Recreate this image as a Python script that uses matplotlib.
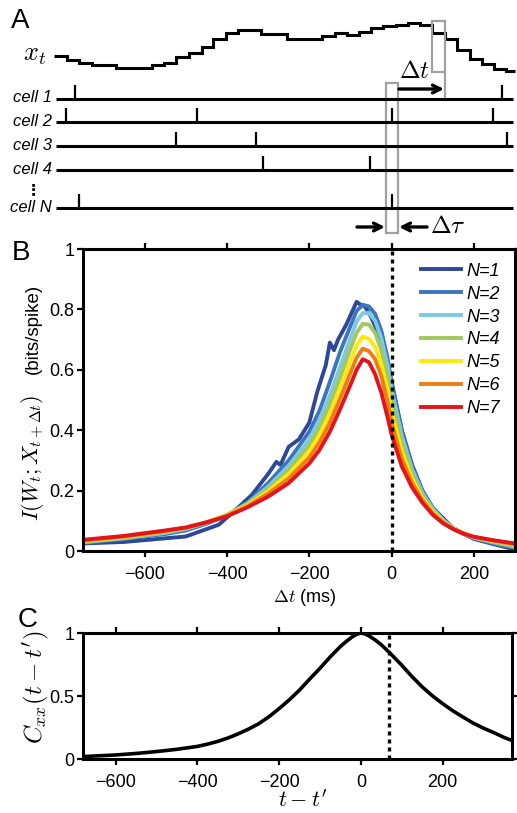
import matplotlib
matplotlib.use("Agg")
import matplotlib.pyplot as plt
from matplotlib.patches import Rectangle

plt.rcParams['font.family'] = ['Liberation Sans', 'DejaVu Sans']
plt.rcParams['mathtext.fontset'] = 'cm'

# ---------------------------- DATA -----------------------------------
# Panel A: schematic stimulus x_t (step levels) and spike rasters (pixel units)
stim_edges = [54, 67, 79, 92, 116, 152, 164, 176, 189, 202, 213, 226, 238, 261, 287, 310,
              322, 335, 347, 359, 371, 383, 396, 408, 420, 432, 445, 457, 470, 482, 494, 506, 515]
stim_levels = [56.5, 60.5, 63.5, 65.5, 68, 65.5, 63, 57.5, 53, 47, 39.5, 33, 30, 34.5, 39, 39.5,
               36, 33.3, 35.5, 32.5, 28.5, 26.5, 25, 23.5, 25.5, 33.3, 39.5, 50, 59, 64.5, 69, 71.5]

cell_names = ['cell 1', 'cell 2', 'cell 3', 'cell 4', 'cell N']
cell_rows = [99, 122, 146, 170, 208]
spike_times = [[75, 502],
               [66, 197, 392, 493],
               [176, 256, 507],
               [263, 370],
               [79, 392]]

# Panel B: information vs. delay, one curve per population size
dt_ms = [-750, -650, -550, -500, -450, -400, -350, -300, -250, -200, -175, -150, -125, -100, -85,
         -70, -55, -40, -25, -10, 0, 25, 50, 75, 100, 125, 150, 175, 200, 250, 300]
info_n2 = [0.027, 0.040, 0.056, 0.068, 0.090, 0.118, 0.160, 0.225, 0.300, 0.395, 0.465, 0.560, 0.660, 0.745, 0.795,
           0.815, 0.810, 0.785, 0.730, 0.640, 0.560, 0.395, 0.280, 0.198, 0.143, 0.104, 0.076, 0.057, 0.042, 0.024, 0.010]
info_n3 = [0.029, 0.042, 0.060, 0.073, 0.093, 0.119, 0.158, 0.213, 0.282, 0.370, 0.435, 0.515, 0.610, 0.705, 0.760,
           0.788, 0.788, 0.762, 0.705, 0.615, 0.535, 0.380, 0.270, 0.192, 0.140, 0.103, 0.076, 0.058, 0.044, 0.028, 0.014]
info_n4 = [0.031, 0.044, 0.063, 0.076, 0.095, 0.120, 0.156, 0.205, 0.268, 0.350, 0.410, 0.485, 0.575, 0.670, 0.722,
           0.752, 0.750, 0.722, 0.665, 0.578, 0.500, 0.355, 0.255, 0.183, 0.135, 0.100, 0.075, 0.058, 0.045, 0.030, 0.017]
info_n5 = [0.033, 0.046, 0.065, 0.077, 0.095, 0.118, 0.152, 0.198, 0.255, 0.330, 0.385, 0.455, 0.540, 0.630, 0.680,
           0.710, 0.703, 0.675, 0.620, 0.535, 0.460, 0.330, 0.240, 0.175, 0.130, 0.097, 0.074, 0.058, 0.046, 0.032, 0.020]
info_n6 = [0.035, 0.048, 0.066, 0.077, 0.094, 0.116, 0.148, 0.190, 0.240, 0.310, 0.360, 0.425, 0.505, 0.590, 0.640,
           0.670, 0.662, 0.635, 0.580, 0.495, 0.425, 0.305, 0.225, 0.168, 0.125, 0.095, 0.073, 0.058, 0.047, 0.034, 0.022]
info_n7 = [0.037, 0.050, 0.068, 0.078, 0.095, 0.115, 0.145, 0.180, 0.225, 0.290, 0.335, 0.395, 0.470, 0.550, 0.600,
           0.635, 0.625, 0.585, 0.525, 0.445, 0.385, 0.280, 0.210, 0.160, 0.120, 0.092, 0.072, 0.057, 0.047, 0.035, 0.025]
# single cell curve is noisier, sampled on its own grid
dt_n1 = [-750, -650, -500, -420, -380, -340, -300, -280, -270, -250, -240, -225, -200, -180, -160, -150, -140,
         -130, -110, -85, -75, -65, -50, -30, -10, 0, 25, 50, 75, 100, 150, 200, 250, 300]
info_n1 = [0.025, 0.030, 0.048, 0.087, 0.135, 0.185, 0.255, 0.295, 0.285, 0.345, 0.355, 0.370, 0.425, 0.530,
           0.615, 0.690, 0.665, 0.700, 0.750, 0.825, 0.815, 0.810, 0.775, 0.715, 0.620, 0.560, 0.400, 0.285,
           0.200, 0.143, 0.075, 0.040, 0.022, 0.005]

n_labels = ['N=1', 'N=2', 'N=3', 'N=4', 'N=5', 'N=6', 'N=7']
n_colors = ['#2e4898', '#3d74c0', '#7ccae2', '#a2c85c', '#fce80c', '#f07c14', '#e3141c']

# Panel C: stimulus autocorrelation
lag_ms = [-680, -650, -600, -550, -500, -450, -400, -375, -350, -325, -300, -275, -250, -225, -200,
          -175, -150, -125, -100, -75, -50, -35, -20, -10, 0, 10, 20, 35, 50, 70, 85, 100, 125,
          150, 175, 200, 225, 250, 275, 300, 325, 350, 370]
autocorr = [0.019, 0.024, 0.032, 0.044, 0.059, 0.077, 0.100, 0.118, 0.140, 0.167, 0.200, 0.237, 0.280, 0.335, 0.400,
            0.470, 0.547, 0.635, 0.720, 0.810, 0.893, 0.935, 0.972, 0.990, 1.0, 0.993, 0.977, 0.945, 0.907, 0.845, 0.795,
            0.745, 0.655, 0.573, 0.502, 0.440, 0.383, 0.333, 0.285, 0.245, 0.210, 0.172, 0.147]
peak_shift = 70

W, H = 517.0, 813.0


def style_axes(ax):
    for s in ax.spines.values():
        s.set_linewidth(2.2)
    ax.tick_params(direction='out', length=4, width=1.6, labelsize=13,
                   top=True, right=True)
    ax.tick_params(axis='x', pad=6.5)
    ax.tick_params(axis='y', pad=2)


fig = plt.figure(figsize=(W / 100, H / 100), dpi=100)

# ------------------------------ PANEL A ------------------------------
ax_a = fig.add_axes([0, 1 - 240 / H, 1, 240 / H])
ax_a.set_xlim(0, W)
ax_a.set_ylim(240, 0)
ax_a.axis('off')

ax_a.stairs(stim_levels, stim_edges, color='k', lw=2.2, baseline=None)
ax_a.text(46, 55, r'$x_t$', fontsize=19, ha='right', va='center')

for name, row, spikes in zip(cell_names, cell_rows, spike_times):
    ax_a.plot([56, 513], [row, row], color='k', lw=2.2, solid_capstyle='butt')
    ax_a.vlines(spikes, row - 14, row, color='k', lw=1.6)
    ax_a.text(52, row - 1, name, fontsize=12, style='italic', ha='right', va='center')
ax_a.text(33, 190, '⋮', fontsize=11, fontweight='bold', ha='center', va='center',
          family=['DejaVu Sans'])

box_gray = '#a0a0a0'
ax_a.add_patch(Rectangle((432, 21), 13, 51, fill=False, ec=box_gray, lw=1.6))
ax_a.plot([445, 445], [72, 97], color=box_gray, lw=1.6)
ax_a.add_patch(Rectangle((386, 83), 12, 150, fill=False, ec=box_gray, lw=1.6))

arrow_kw = dict(arrowstyle='->', lw=2.4, color='k', mutation_scale=14, shrinkA=0, shrinkB=0)
ax_a.annotate('', xy=(444, 89), xytext=(399, 89), arrowprops=arrow_kw)
ax_a.text(430, 71, r'$\Delta t$', fontsize=18, ha='right', va='center')
ax_a.annotate('', xy=(385, 227), xytext=(357, 227), arrowprops=arrow_kw)
ax_a.annotate('', xy=(399, 227), xytext=(427, 227), arrowprops=arrow_kw)
ax_a.text(430, 226, r'$\Delta\tau$', fontsize=18, ha='left', va='center')

fig.text(11 / W, 1 - 21 / H, 'A', fontsize=20, ha='left', va='center')

# ------------------------------ PANEL B ------------------------------
ax_b = fig.add_axes([83 / W, 1 - 551 / H, 432 / W, 302 / H])
curves = [info_n1, info_n2, info_n3, info_n4, info_n5, info_n6, info_n7]
for i, (vals, lab, col) in enumerate(zip(curves, n_labels, n_colors)):
    xs = dt_n1 if i == 0 else dt_ms
    ax_b.plot(xs, vals, color=col, lw=2.8, label=lab, solid_joinstyle='round')
ax_b.axvline(0, color='k', lw=2.4, linestyle=(0, (1.2, 1.2)))
ax_b.set_xlim(-750, 300)
ax_b.set_ylim(0, 1)
ax_b.set_xticks([-600, -400, -200, 0, 200])
ax_b.set_yticks([0, 0.2, 0.4, 0.6, 0.8, 1])
ax_b.set_yticklabels(['0', '0.2', '0.4', '0.6', '0.8', '1'])
style_axes(ax_b)
ax_b.legend(loc='upper left', bbox_to_anchor=(0.782, 0.955), frameon=False,
            prop=dict(style='italic', size=13), handlelength=2.2, handletextpad=0.3,
            labelspacing=0.33, borderpad=0, borderaxespad=0)

fig.text(305 / W, 1 - 597 / H, r'$\Delta t$ (ms)', fontsize=13, ha='center', va='center')
fig.text(33 / W, 1 - 458 / H, r'$I(W_t;X_{t+\Delta t})$', fontsize=16,
         rotation=90, ha='center', va='center')
fig.text(33 / W, 1 - 329 / H, '(bits/spike)', fontsize=13.5,
         rotation=90, ha='center', va='center')
fig.text(12 / W, 1 - 253 / H, 'B', fontsize=20, ha='left', va='center')

# ------------------------------ PANEL C ------------------------------
ax_c = fig.add_axes([83 / W, 1 - 759 / H, 429 / W, 126 / H])
ax_c.plot(lag_ms, autocorr, color='k', lw=2.6)
ax_c.axvline(peak_shift, color='k', lw=2.4, linestyle=(0, (1.2, 1.2)))
ax_c.set_xlim(-680, 370)
ax_c.set_ylim(0, 1)
ax_c.set_xticks([-600, -400, -200, 0, 200])
ax_c.set_yticks([0, 0.5, 1])
ax_c.set_yticklabels(['0', '0.5', '1'])
style_axes(ax_c)

fig.text(303 / W, 1 - 801 / H, r"$t-t'$", fontsize=16, ha='center', va='center')
fig.text(36 / W, 1 - 687 / H, r"$C_{xx}(t-t')$", fontsize=18, rotation=90, ha='center', va='center')
fig.text(18 / W, 1 - 620 / H, 'C', fontsize=20, ha='left', va='center')

fig.savefig('out.png', dpi=100)
